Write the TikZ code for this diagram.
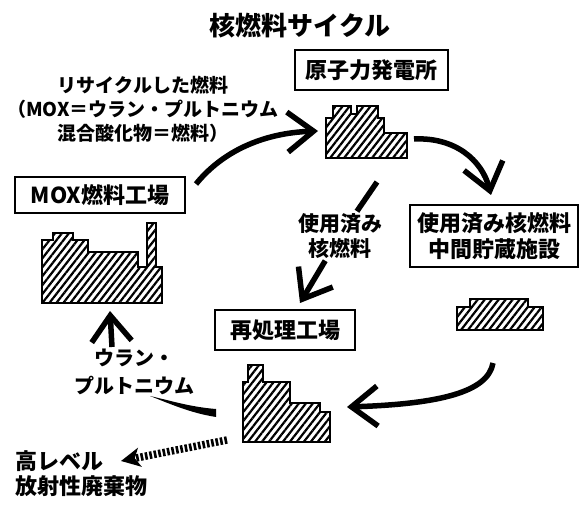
\documentclass[tikz,border=0pt]{standalone}
\usepackage{fontspec}
\setmainfont{Noto Sans CJK JP}
\usetikzlibrary{arrows.meta,patterns.meta}

\begin{document}
\begin{tikzpicture}[x=1pt,y=-1pt,
  title/.style={font=\bfseries\fontsize{26}{30}\selectfont, inner sep=0pt},
  facility/.style={draw, line width=1.5pt, inner sep=0pt, align=center,
    font=\bfseries\fontsize{22}{28}\selectfont},
  lbl/.style={inner sep=2pt, align=center},
  bldg/.style={draw, line width=1.6pt, line join=miter,
    pattern={Lines[angle=52,distance=5.5pt,line width=2.2pt]}},
  flow/.style={line width=5.5pt,
    -{Straight Barb[length=26pt,width=40pt]}},
  waste/.style={line width=7.5pt, dash pattern=on 2.6pt off 1.9pt,
    -{Stealth[length=19pt,width=19pt,inset=5pt]}}]

\useasboundingbox (0,0) rectangle (581,518);
\fill[white] (0,0) rectangle (581,518);

% heading
\node[title] (title) at (300,26) {核燃料サイクル};

% facility name boxes
\node[facility, minimum width=153pt, minimum height=40pt] (npp) at (371.5,70) {原子力発電所};
\node[facility, minimum width=170pt, minimum height=36pt] (moxf) at (100,195) {MOX燃料工場};
\node[facility, minimum width=168pt, minimum height=62pt] (isf) at (494,236)
  {使用済み核燃料\\[-2pt]中間貯蔵施設};
\node[facility, minimum width=140pt, minimum height=40pt] (rep) at (285,330) {再処理工場};

% hatched buildings
\draw[bldg] (326,158) -- (326,118) -- (333,118) -- (333,106) -- (351,106) -- (351,114)
  -- (357,114) -- (357,106) -- (378,106) -- (378,118) -- (384,118) -- (384,133)
  -- (407,133) -- (407,158) -- cycle;
\draw[bldg] (42,303) -- (42,240) -- (53,240) -- (53,233) -- (73,233) -- (73,240)
  -- (88,240) -- (88,252) -- (138,252) -- (138,267) -- (147,267) -- (147,223)
  -- (156,223) -- (156,267) -- (162,267) -- (162,303) -- cycle;
\draw[bldg] (243,442) -- (243,382) -- (248,382) -- (248,365) -- (263,365) -- (263,382)
  -- (290,382) -- (290,403) -- (320,403) -- (320,412) -- (330,412) -- (330,442) -- cycle;
\draw[bldg] (457,330) -- (457,307) -- (470,307) -- (470,299) -- (528,299) -- (528,307)
  -- (543,307) -- (543,330) -- cycle;

% text labels
\node[lbl, font=\bfseries\fontsize{19}{24}\selectfont] (recyc) at (143,109)
  {リサイクルした燃料\\（MOX＝ウラン・プルトニウム\\混合酸化物＝燃料）};
\node[lbl, font=\bfseries\fontsize{21}{25}\selectfont] (spent) at (340,236) {使用済み\\核燃料};
\node[lbl, font=\bfseries\fontsize{20}{28}\selectfont] (upu) at (134,372) {ウラン・\\プルトニウム};
\node[lbl, align=left, anchor=west, font=\bfseries\fontsize{22}{25}\selectfont] (hlw) at (13,474)
  {高レベル\\放射性廃棄物};

% flows between facilities
\coordinate (a1s) at (196,184);
\coordinate (a1e) at (318,131);
\draw[flow] (a1s) .. controls (222,152) and (262,133) .. (a1e);

\coordinate (a2s) at (414,139);
\coordinate (a2e) at (491,195);
\draw[flow] (a2s) .. controls (455,137) and (482,160) .. (a2e);

\coordinate (a3s) at (377,182);
\coordinate (a3e) at (300,303);
\draw[line width=5.5pt] (a3s) -- (spent);
\draw[flow] (spent) -- (a3e);

\coordinate (a4s) at (493,363);
\coordinate (a4e) at (347,407);
\draw[flow] (a4s) .. controls (488,392) and (440,404) .. (a4e);

% tapered stroke from the reprocessing plant towards the U/Pu label
\fill (216,409) .. controls (190,407) and (168,400) .. (150,396)
  .. controls (168,403) and (190,413) .. (216,417) -- cycle;

\coordinate (a5s) at (112,347);
\coordinate (a5e) at (110,311);
\draw[flow] (a5s) -- (a5e);

\coordinate (a6s) at (227,440);
\coordinate (a6e) at (121,461);
\draw[waste] (a6s) -- (a6e);

\end{tikzpicture}
\end{document}
